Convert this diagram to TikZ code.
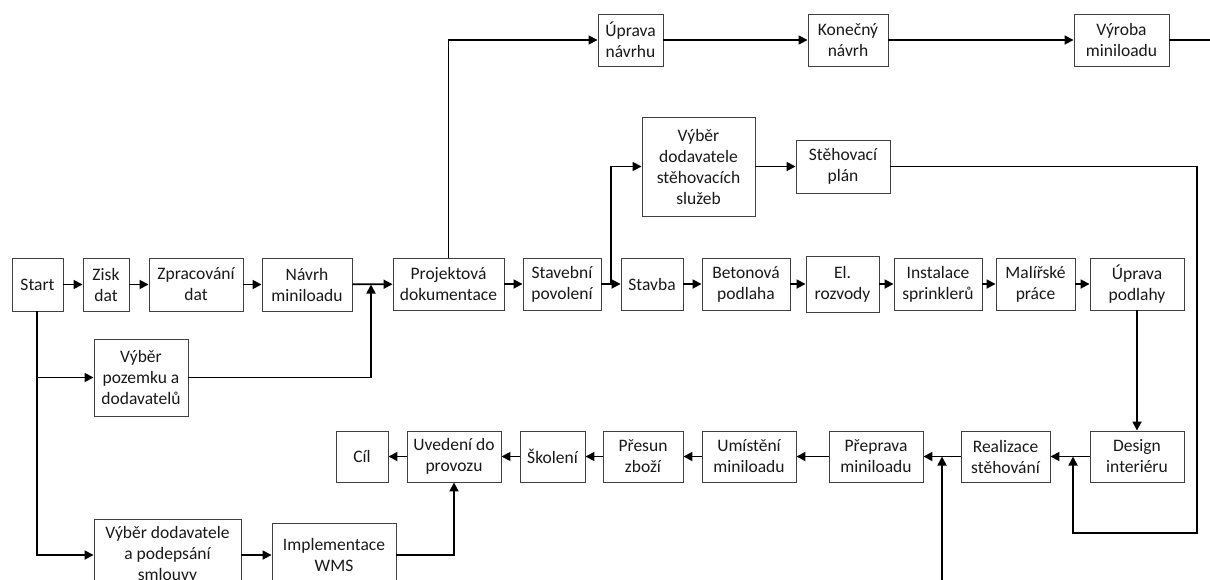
\documentclass[tikz,border=0pt]{standalone}
\usepackage{fontspec}
\setmainfont{Carlito}
\usetikzlibrary{arrows.meta}
\begin{document}
\begin{tikzpicture}[x=1pt,y=-1pt,
  box/.style={draw=black!75,line width=0.9pt,fill=white,inner sep=0pt,align=center,
    font=\fontsize{17.5}{21}\selectfont,text=black!90},
  conn/.style={line width=1.7pt,-{Triangle[length=9pt,width=9pt]}},
  wire/.style={line width=1.7pt}]
\path[use as bounding box,clip] (0,0) rectangle (1210,579);
\fill[white] (0,0) rectangle (1210,579);

% main row
\node[box,minimum width=51,minimum height=53] (start) at (37.5,284.5) {Start};
\node[box,minimum width=46,minimum height=53] (zisk) at (106,284.5) {Zisk\\dat};
\node[box,minimum width=94,minimum height=53] (zprac) at (196,284.5) {Zpracování\\dat};
\node[box,minimum width=90,minimum height=53] (navrh) at (307,284.5) {Návrh\\miniloadu};
\node[box,minimum width=94,minimum height=77] (pozemek) at (141,377.5) {Výběr\\pozemku a\\dodavatelů};
\node[box,minimum width=111,minimum height=52] (projekt) at (448.5,284) {Projektová\\dokumentace};
\node[box,minimum width=78,minimum height=52] (povol) at (562,284) {Stavební\\povolení};
\node[box,minimum width=62,minimum height=52] (stavba) at (652,284) {Stavba};
\node[box,minimum width=88,minimum height=52] (beton) at (746,284) {Betonová\\podlaha};
\node[box,minimum width=73,minimum height=56] (elroz) at (842.5,284) {El.\\rozvody};
\node[box,minimum width=88,minimum height=52] (sprink) at (938,284) {Instalace\\sprinklerů};
\node[box,minimum width=79,minimum height=52] (malir) at (1035.5,284) {Malířské\\práce};
\node[box,minimum width=94,minimum height=52] (podlaha) at (1137,284) {Úprava\\podlahy};

% top row
\node[box,minimum width=65,minimum height=52] (upnavrh) at (630.5,40) {Úprava\\návrhu};
\node[box,minimum width=80,minimum height=52] (konec) at (848,40) {Konečný\\návrh};
\node[box,minimum width=95,minimum height=52] (vyroba) at (1121.5,40) {Výroba\\miniloadu};

% moving branch
\node[box,minimum width=113,minimum height=99] (stehdod) at (698.5,166.5) {Výběr\\dodavatele\\stěhovacích\\služeb};
\node[box,minimum width=94,minimum height=53] (stehplan) at (843,166.5) {Stěhovací\\plán};

% bottom row
\node[box,minimum width=52,minimum height=51] (cil) at (362,456.5) {Cíl};
\node[box,minimum width=94,minimum height=51] (uved) at (454,456.5) {Uvedení do\\provozu};
\node[box,minimum width=65,minimum height=51] (skol) at (552.5,456.5) {Školení};
\node[box,minimum width=80,minimum height=51] (presun) at (643,456.5) {Přesun\\zboží};
\node[box,minimum width=94,minimum height=51] (umist) at (749,456.5) {Umístění\\miniloadu};
\node[box,minimum width=94,minimum height=51] (prepr) at (876,456.5) {Přeprava\\miniloadu};
\node[box,minimum width=89,minimum height=51] (realiz) at (1005.5,456.5) {Realizace\\stěhování};
\node[box,minimum width=94,minimum height=51] (design) at (1137,456.5) {Design\\interiéru};

% WMS branch
\node[box,minimum width=147,minimum height=72] (smlouva) at (167.5,555) {Výběr dodavatele\\a podepsání\\smlouvy};
\node[box,minimum width=124,minimum height=64] (wms) at (334,555) {Implementace\\WMS};

% junctions and free ends
\coordinate (jnavrh) at (371,284.5);
\coordinate (jpovol) at (611,284);
\coordinate (jrealiz) at (1073,456.5);
\coordinate (jprepr) at (942,456.5);
\coordinate (loop) at (1197,533);
\coordinate (offright) at (1212,40);
\coordinate (offbottom) at (942,581);
\coordinate (jstart) at (37,377.5);

% main row connectors
\draw[conn] (start) -- (zisk);
\draw[conn] (zisk) -- (zprac);
\draw[conn] (zprac) -- (navrh);
\draw[conn] (navrh) -- (projekt);
\draw[conn] (projekt) -- (povol);
\draw[conn] (povol) -- (stavba);
\draw[conn] (stavba) -- (beton);
\draw[conn] (beton) -- (elroz);
\draw[conn] (elroz) -- (sprink);
\draw[conn] (sprink) -- (malir);
\draw[conn] (malir) -- (podlaha);
\draw[conn] (podlaha) -- (design);

% branches from Start
\draw[conn] (start.south -| jstart) |- (smlouva.west);
\draw[conn] (jstart) -- (pozemek.west);
\draw[conn] (pozemek.east) -| (jnavrh);

% design branch
\draw[conn] (projekt.north) |- (upnavrh.west);
\draw[conn] (upnavrh) -- (konec);
\draw[conn] (konec) -- (vyroba);
\draw[wire] (vyroba.east) -- (offright);

% moving branch
\draw[conn] (jpovol) |- (stehdod.west);
\draw[conn] (stehdod) -- (stehplan);
\draw[conn] (stehplan.east) -| (loop) -| (jrealiz);

% bottom row
\draw[conn] (design) -- (realiz);
\draw[conn] (realiz) -- (prepr);
\draw[conn] (prepr) -- (umist);
\draw[conn] (umist) -- (presun);
\draw[conn] (presun) -- (skol);
\draw[conn] (skol) -- (uved);
\draw[conn] (uved) -- (cil);
\draw[conn] (offbottom) -- (jprepr);

% WMS branch
\draw[conn] (smlouva) -- (wms);
\draw[conn] (wms.east) -| (uved.south);
\end{tikzpicture}
\end{document}
